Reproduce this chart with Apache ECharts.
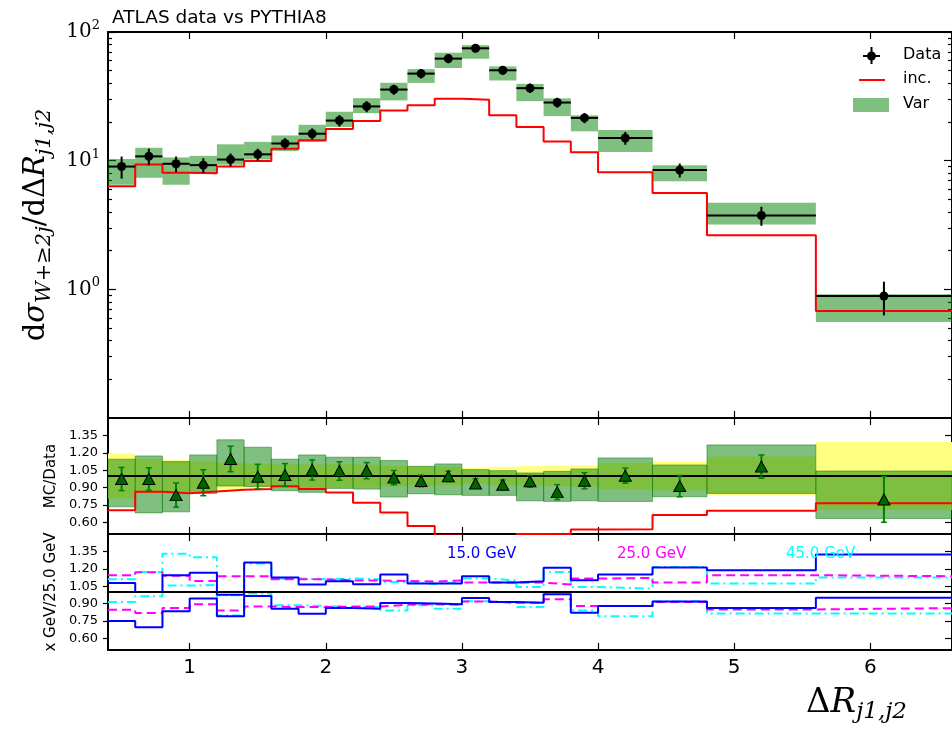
<!DOCTYPE html>
<html><head><meta charset="utf-8">
<script src="https://cdn.jsdelivr.net/npm/echarts@6/dist/echarts.min.js"></script>
<style>html,body{margin:0;padding:0;background:#fff}#c{width:952px;height:737px}</style>
</head><body><div id="c"></div>
<script>
// ---- data ----
const binEdges = [0.4,0.6,0.8,1.0,1.2,1.4,1.6,1.8,2.0,2.2,2.4,2.6,2.8,3.0,3.2,3.4,3.6,3.8,4.0,4.4,4.8,5.6,6.6];
const dataVals = [9.0,10.8,9.46,9.23,10.2,11.2,13.6,16.2,20.5,26.4,35.7,47.5,62.1,74.7,50.4,36.6,28.3,21.5,15.0,8.45,3.75,0.887];
const dataErr  = [1.75,1.6,1.3,1.2,1.17,1.18,1.36,1.6,2.1,2.6,3.2,4.0,5.0,5.2,4.0,3.1,2.5,1.94,1.72,1.05,0.63,0.26];
const incVals  = [6.34,9.34,8.05,8.0,9.0,9.95,12.4,14.4,17.6,20.3,24.5,27.0,30.3,29.7,22.5,18.3,14.1,11.6,8.13,5.6,2.63,0.679];
const varLo    = [6.5,7.36,6.5,7.9,9.3,10.2,11.9,14.0,18.3,23.4,29.4,40.2,52.5,62.0,42.0,29.0,22.2,16.9,11.7,6.93,3.19,0.557];
const varHi    = [10.3,12.6,10.6,10.9,13.4,14.0,15.7,19.0,24.0,30.6,40.3,51.4,69.0,79.0,54.0,39.5,30.5,22.5,17.3,9.2,4.71,0.915];
const ratioVarLo = [0.734,0.682,0.691,0.85,0.913,0.91,0.873,0.859,0.893,0.887,0.818,0.847,0.838,0.833,0.833,0.786,0.781,0.786,0.781,0.821,0.85,0.634];
const ratioVarHi = [1.145,1.173,1.124,1.182,1.312,1.248,1.145,1.182,1.162,1.162,1.133,1.084,1.104,1.055,1.046,1.026,1.04,1.061,1.156,1.095,1.268,1.043];
const ratioPts = [0.974,0.974,0.835,0.942,1.147,0.994,1.009,1.052,1.043,1.046,0.986,0.957,0.997,0.936,0.925,0.954,0.861,0.959,1.003,0.913,1.081,0.798];
const ratioErr = [0.10,0.097,0.104,0.112,0.11,0.107,0.098,0.087,0.08,0.07,0.062,0.05,0.045,0.04,0.04,0.05,0.065,0.07,0.065,0.092,0.1,0.197];
const blueHi = [1.078,1.0,1.145,1.165,0.977,1.254,1.124,1.064,1.093,1.067,1.15,1.073,1.073,1.136,1.081,1.093,1.208,1.101,1.15,1.211,1.188,1.324];
const blueLo = [0.749,0.697,0.833,0.945,0.792,0.965,0.856,0.813,0.861,0.856,0.905,0.9,0.895,0.948,0.913,0.908,0.98,0.821,0.879,0.919,0.861,0.951];
const magHi  = [1.145,1.17,1.14,1.095,1.136,1.136,1.11,1.11,1.10,1.10,1.095,1.09,1.10,1.081,1.081,1.081,1.064,1.116,1.121,1.081,1.145,1.136];
const magLo  = [0.848,0.82,0.861,0.895,0.84,0.875,0.87,0.87,0.875,0.875,0.89,0.895,0.89,0.919,0.908,0.908,0.937,0.879,0.879,0.913,0.85,0.861];
const cyanHi = [1.11,1.173,1.33,1.30,0.971,1.246,1.116,1.11,1.116,1.11,1.087,1.07,1.087,1.116,1.10,1.043,1.173,1.043,1.029,1.216,1.073,1.125];
const cyanLo = [0.913,0.963,1.055,1.06,0.798,0.986,0.885,0.88,0.87,0.87,0.841,0.885,0.855,0.92,0.908,0.87,1.0,0.841,0.792,0.919,0.815,0.815];
const xTicks = [1,2,3,4,5,6];
const logTicks = [1,10,100];
const logMinorTicks = [0.2,0.3,0.4,0.5,0.6,0.7,0.8,0.9,2,3,4,5,6,7,8,9,20,30,40,50,60,70,80,90];
const ratioTicks = [0.6,0.75,0.9,1.05,1.2,1.35];
const ptLabels = ['15.0 GeV','25.0 GeV','45.0 GeV'];
const legendNames = ['Data','inc.','Var'];

// ---- derived ----
const nBins = dataVals.length;
const binLo = binEdges.slice(0, nBins), binHi = binEdges.slice(1);
const stepData = vals => { const d = vals.map((v,i)=>[binLo[i], v]); d.push([binHi[nBins-1], vals[nBins-1]]); return d; };
const boxData = (lo, hi) => binLo.map((x,i)=>[x, binHi[i], lo[i], hi[i]]);
const ratioYellowLo = dataVals.map((v,i)=>1 - dataErr[i]/v);
const ratioYellowHi = dataVals.map((v,i)=>1 + dataErr[i]/v);
const incRatio = incVals.map((v,i)=>v/dataVals[i]);

const SANS = 'DejaVu Sans';
const SERIF = 'DejaVu Serif';

function boxRender(fill, stroke) {
  return function (params, api) {
    const p1 = api.coord([api.value(0), api.value(3)]);
    const p2 = api.coord([api.value(1), api.value(2)]);
    return {type:'rect', shape:{x:p1[0], y:p1[1], width:p2[0]-p1[0], height:p2[1]-p1[1]},
      style:{fill: fill, stroke: stroke || null, lineWidth: 1}};
  };
}
function dataRender(params, api) {
  const lo=api.value(0), hi=api.value(1), v=api.value(2), e=api.value(3), xc=(lo+hi)/2;
  const a=api.coord([lo,v]), b=api.coord([hi,v]), c=api.coord([xc,v]);
  const t=api.coord([xc,v+e]), bt=api.coord([xc,v-e]);
  return {type:'group', children:[
    {type:'line', shape:{x1:a[0],y1:a[1],x2:b[0],y2:b[1]}, style:{stroke:'#000',lineWidth:2}},
    {type:'line', shape:{x1:t[0],y1:t[1],x2:bt[0],y2:bt[1]}, style:{stroke:'#000',lineWidth:2}},
    {type:'circle', shape:{cx:c[0],cy:c[1],r:4.5}, style:{fill:'#000'}}
  ]};
}
function errRender(params, api) {
  const x=api.value(0), v=api.value(1), e=api.value(2);
  const t=api.coord([x,v+e]), b=api.coord([x,v-e]);
  return {type:'group', children:[
    {type:'line', shape:{x1:t[0],y1:t[1],x2:b[0],y2:b[1]}, style:{stroke:'#008000',lineWidth:2}},
    {type:'line', shape:{x1:t[0]-3,y1:t[1],x2:t[0]+3,y2:t[1]}, style:{stroke:'#008000',lineWidth:1.5}},
    {type:'line', shape:{x1:b[0]-3,y1:b[1],x2:b[0]+3,y2:b[1]}, style:{stroke:'#008000',lineWidth:1.5}}
  ]};
}

const AX = {color:'#000', width:2};
function xAx(gi, pos, showLabel) {
  return {type:'value', gridIndex:gi, position:pos, min:binEdges[0], max:binEdges[binEdges.length-1],
    axisLine:{show:true, onZero:false, lineStyle:AX},
    axisTick:{show:true, inside:true, length:7, lineStyle:{color:'#000', width:1.2}, customValues:xTicks},
    axisLabel:{show:showLabel, customValues:xTicks, margin:8, fontFamily:SANS, fontSize:20, color:'#000'},
    splitLine:{show:false}};
}
function logAx(pos, minor, showLabel, showLine) {
  return {type:'log', logBase:10, gridIndex:0, position:pos, min:0.1, max:100,
    axisLine:{show:showLine, onZero:false, lineStyle:AX},
    axisTick:{show:true, inside:true, length: minor ? 4 : 8, lineStyle:{color:'#000', width:1.2},
      customValues: minor ? logMinorTicks : logTicks},
    axisLabel:{show:showLabel, customValues:logTicks, margin:8, color:'#000',
      formatter: v => '{b|10}{p|' + Math.round(Math.log10(v)) + '}',
      rich:{b:{fontFamily:SERIF, fontSize:20, lineHeight:26, color:'#000'},
            p:{fontFamily:SERIF, fontSize:13, verticalAlign:'top', color:'#000'}}},
    splitLine:{show:false}, minorTick:{show:false}};
}
function ratioAx(gi, pos, name) {
  const left = pos === 'left';
  return {type:'value', gridIndex:gi, position:pos, min:0.5, max:1.5,
    axisLine:{show:true, onZero:false, lineStyle:AX},
    axisTick:{show:true, inside:!left, length: left ? 5 : 7, lineStyle:{color:'#000', width:1.2}, customValues:ratioTicks},
    axisLabel:{show:left, customValues:ratioTicks, margin:10, fontFamily:SANS, fontSize:13, color:'#000',
      formatter: v => v.toFixed(2)},
    name: left ? name : '', nameLocation:'middle', nameRotate:90, nameGap:46,
    nameTextStyle:{fontFamily:SANS, fontSize:15, color:'#000'},
    splitLine:{show:false}};
}

const topName = {
  name:'{a|d}{i|σ}{s|W+≥2j}{a|/dΔ}{i|R}{s|j1,j2}', nameLocation:'middle', nameRotate:90, nameGap:40,
  nameTextStyle:{rich:{
    a:{fontFamily:SERIF, fontSize:29, lineHeight:38, color:'#000'},
    i:{fontFamily:SERIF, fontStyle:'italic', fontSize:29, lineHeight:38, color:'#000'},
    s:{fontFamily:SERIF, fontStyle:'italic', fontSize:21, verticalAlign:'bottom', color:'#000'}
  }}
};

const yAxes = [
  Object.assign(logAx('left', false, true, true), topName),
  logAx('left', true, false, false),
  logAx('right', false, false, true),
  logAx('right', true, false, false),
  ratioAx(1, 'left', 'MC/Data'),
  ratioAx(1, 'right', ''),
  ratioAx(2, 'left', 'x GeV/25.0 GeV'),
  ratioAx(2, 'right', '')
];

const lineS = (xi, yi, vals, color, type, z) => ({
  type:'line', xAxisIndex:xi, yAxisIndex:yi, data:stepData(vals), step:'end', symbol:'none', z:z||3,
  lineStyle:{color:color, width:2, type:type||'solid'}, clip:true, silent:true, animation:false});
const unityLine = (xi, yi) => ({type:'line', xAxisIndex:xi, yAxisIndex:yi, symbol:'none', z:4, silent:true,
  data:[[binEdges[0],1],[binEdges[binEdges.length-1],1]], lineStyle:{color:'#000', width:2}});

const series = [
  // top panel
  {type:'custom', xAxisIndex:0, yAxisIndex:0, z:1, clip:true, renderItem:boxRender('rgba(0,128,0,0.5)'),
   encode:{x:[0,1], y:[2,3]}, data:boxData(varLo, varHi)},
  lineS(0, 0, incVals, '#ff0000', 'solid', 2),
  {type:'custom', xAxisIndex:0, yAxisIndex:0, z:5, clip:true, renderItem:dataRender,
   encode:{x:[0,1], y:[2]}, data:binLo.map((x,i)=>[x, binHi[i], dataVals[i], dataErr[i]])},
  // ratio panel
  {type:'custom', xAxisIndex:2, yAxisIndex:4, z:1, clip:true, renderItem:boxRender('#ffff80'),
   encode:{x:[0,1], y:[2,3]}, data:boxData(ratioYellowLo, ratioYellowHi)},
  {type:'custom', xAxisIndex:2, yAxisIndex:4, z:2, clip:true, renderItem:boxRender('rgba(0,128,0,0.5)','rgba(0,110,0,0.45)'),
   encode:{x:[0,1], y:[2,3]}, data:boxData(ratioVarLo, ratioVarHi)},
  lineS(2, 4, incRatio, '#ff0000', 'solid', 3),
  unityLine(2, 4),
  {type:'custom', xAxisIndex:2, yAxisIndex:4, z:5, clip:true, renderItem:errRender,
   encode:{x:[0], y:[1]}, data:binLo.map((x,i)=>[(x+binHi[i])/2, ratioPts[i], ratioErr[i]])},
  {type:'scatter', xAxisIndex:2, yAxisIndex:4, z:6, symbol:'triangle', symbolSize:[12,11], silent:true,
   itemStyle:{color:'#006400', borderColor:'#000', borderWidth:1, opacity:1},
   data:binLo.map((x,i)=>[(x+binHi[i])/2, ratioPts[i]])},
  // scale variation panel
  unityLine(4, 6),
  lineS(4, 6, cyanHi, '#00ffff', [9,4,2,4], 3),
  lineS(4, 6, cyanLo, '#00ffff', [9,4,2,4], 3),
  lineS(4, 6, magHi, '#ff00ff', [9,5], 3),
  lineS(4, 6, magLo, '#ff00ff', [9,5], 3),
  lineS(4, 6, blueHi, '#0000ff', 'solid', 3),
  lineS(4, 6, blueLo, '#0000ff', 'solid', 3)
];

const txt = (x, y, text, color, size, extra) => ({type:'text', left:x, top:y, z:100,
  style:Object.assign({text:text, fill:color, font: (size||15) + 'px "' + SANS + '"'}, extra||{})});

const option = {
  animation:false,
  backgroundColor:'#fff',
  title:{text:'ATLAS data vs PYTHIA8', left:107, top:4,
    textStyle:{fontFamily:SANS, fontSize:18.5, fontWeight:'normal', color:'#000'}},
  grid:[
    {left:108, width:847, top:32, height:386},
    {left:108, width:847, top:418, height:116},
    {left:108, width:847, top:534, height:116}
  ],
  xAxis:[xAx(0,'bottom',false), xAx(0,'top',false), xAx(1,'bottom',false), xAx(1,'top',false),
         xAx(2,'bottom',true), xAx(2,'top',false)],
  yAxis: yAxes,
  series: series,
  graphic:[
    // legend
    {type:'line', z:100, shape:{x1:863,y1:56,x2:880,y2:56}, style:{stroke:'#000', lineWidth:2}},
    {type:'line', z:100, shape:{x1:871.5,y1:47,x2:871.5,y2:64}, style:{stroke:'#000', lineWidth:2}},
    {type:'circle', z:100, shape:{cx:871.5, cy:56, r:4.5}, style:{fill:'#000'}},
    {type:'line', z:100, shape:{x1:859,y1:80,x2:885,y2:80}, style:{stroke:'#ff0000', lineWidth:2}},
    {type:'rect', z:100, shape:{x:853, y:98, width:36, height:14}, style:{fill:'rgba(0,128,0,0.5)'}},
    txt(903, 47, legendNames[0], '#000', 16),
    txt(903, 71, legendNames[1], '#000', 16),
    txt(903, 96, legendNames[2], '#000', 16),
    // scale labels
    txt(447, 547, ptLabels[0], '#0000ff', 15),
    txt(617, 547, ptLabels[1], '#ff00ff', 15),
    txt(786, 547, ptLabels[2], '#00ffff', 15),
    // x axis title
    {type:'text', left:806, top:686, z:100, style:{text:'{a|Δ}{i|R}{s|j1,j2}', rich:{
      a:{fontFamily:SERIF, fontSize:34, lineHeight:42, fill:'#000', color:'#000'},
      i:{fontFamily:SERIF, fontStyle:'italic', fontSize:34, lineHeight:42, fill:'#000', color:'#000'},
      s:{fontFamily:SERIF, fontStyle:'italic', fontSize:23, verticalAlign:'bottom', fill:'#000', color:'#000'}
    }}}
  ]
};
const chart = echarts.init(document.getElementById('c'));
chart.setOption(option);
</script>
</body></html>
